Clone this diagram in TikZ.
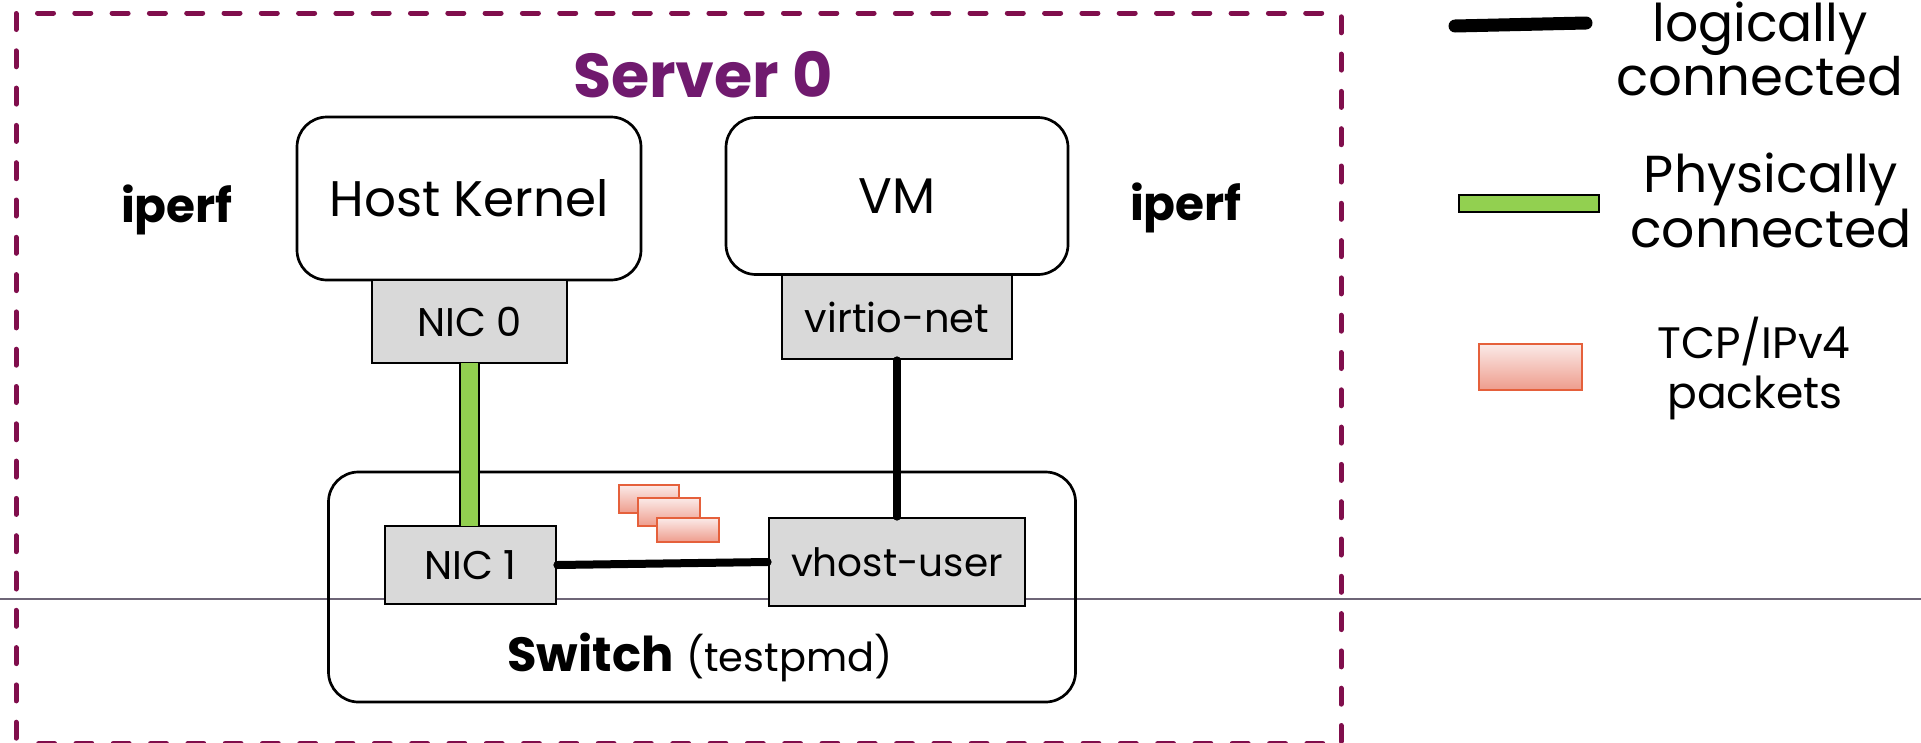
\documentclass[tikz,border=0pt]{standalone}
\usepackage{fontspec}
\setmainfont{Poppins}
\definecolor{srvborder}{HTML}{800E4C}
\definecolor{srvtitle}{HTML}{701A6E}
\definecolor{boxgray}{HTML}{D9D9D9}
\definecolor{physgreen}{HTML}{92D050}
\definecolor{pktedge}{HTML}{E5603B}
\definecolor{pkttop}{HTML}{FBEAE8}
\definecolor{pktbot}{HTML}{EE9C8C}
\definecolor{rulegray}{HTML}{6E6577}
\newcommand\setfs[1]{\fontsize{#1}{#1}\selectfont}
\pgfdeclarelayer{back}
\pgfsetlayers{back,main}
\tikzset{
  roundbox/.style={draw, line width=2.7pt, rounded corners=30pt, inner sep=0pt, font={\setfs{50}}},
  graybox/.style={draw, fill=boxgray, line width=2.7pt, inner sep=0pt, font={\setfs{40}}},
  packet/.style={draw=pktedge, line width=2.5pt, top color=pkttop, bottom color=pktbot, inner sep=0pt},
  logical/.style={line width=8pt, line cap=round},
  lbl/.style={anchor=base, inner sep=0pt},
  serverline/.style={srvborder, line width=5pt, line cap=round, dash pattern=on 16pt off 21.3pt},
}
\begin{document}
\begin{tikzpicture}[x=1pt, y=-1pt]
\useasboundingbox (0,0) rectangle (1921,742);

% thin horizontal rule behind everything
\begin{pgfonlayer}{back}
  \coordinate (ruleL) at (0,599);
  \coordinate (ruleR) at (1921,599);
  \draw[rulegray, line width=1.2pt] (ruleL) -- (ruleR);
\end{pgfonlayer}

% dashed outline of the server
\coordinate (sTL) at (16,13);
\coordinate (sTR) at (1341,13);
\coordinate (sBL) at (16,743.5);
\coordinate (sBR) at (1341,743.5);
\draw[serverline] (37.5,13) -- (sTR);
\draw[serverline] (16,13.5) -- (sBL);
\draw[serverline] (1341,16.8) -- (sBR);
\draw[serverline] (38.6,743.5) -- (sBR);

\node[lbl, text=srvtitle, font={\setfs{62}\bfseries}] (title) at (703,97) {Server 0};

% boxes
\node[roundbox, minimum width=747pt, minimum height=230pt] (switch) at (702,587) {};
\node[lbl, font={\setfs{48}}] (switchlbl) at (700,671) {\textbf{Switch} {\setfs{40}(testpmd)}};

\node[roundbox, minimum width=344pt, minimum height=163pt] (hostk) at (469,198.5) {Host Kernel};
\node[roundbox, minimum width=342pt, minimum height=157pt] (vm) at (897,196) {VM};

\node[graybox, minimum width=195pt, minimum height=83pt] (nic0) at (469.5,321.5) {NIC 0};
\node[graybox, minimum width=230pt, minimum height=84pt] (virtio) at (897,317) {virtio-net};
\node[graybox, minimum width=171pt, minimum height=78pt] (nic1) at (470.5,565) {NIC 1};
\node[graybox, minimum width=256pt, minimum height=88pt, font={\setfs{39}}] (vhost) at (897,562) {vhost-user};

\node[lbl, font={\setfs{47}\bfseries}] (iperfL) at (177,222) {iperf};
\node[lbl, font={\setfs{47}\bfseries}] (iperfR) at (1186,220) {iperf};

% links
\draw[line width=21pt] (nic0.south) -- (nic0.south |- nic1.north);
\draw[physgreen, line width=17pt] ([yshift=1.5pt]nic0.south) -- ([yshift=-1.5pt]nic0.south |- nic1.north);
\draw[logical] (virtio.south) -- (vhost.north);
\draw[logical] (nic1.east) -- (vhost.west);

% packets in flight
\node[packet, minimum width=60pt, minimum height=28pt] (pk1) at (649,499) {};
\node[packet, minimum width=62pt, minimum height=28pt] (pk2) at (669,512) {};
\node[packet, minimum width=62pt, minimum height=24pt] (pk3) at (688,530) {};

% legend
\coordinate (lgA) at (1455,26);
\coordinate (lgB) at (1586,23);
\draw[line width=13pt, line cap=round] (lgA) -- (lgB);
\node[lbl, font={\setfs{52}}] (lg1a) at (1760,41) {logically};
\node[lbl, font={\setfs{53}}] (lg1b) at (1760,95) {connected};

\node[draw, line width=2pt, fill=physgreen, minimum width=140pt, minimum height=17pt, inner sep=0pt] (lgphys) at (1529,203.5) {};
\node[lbl, font={\setfs{52}}] (lg2a) at (1771,192) {Physically};
\node[lbl, font={\setfs{52}}] (lg2b) at (1771,247) {connected};

\node[packet, minimum width=103pt, minimum height=46pt] (lgpkt) at (1530.5,367) {};
\node[lbl, font={\setfs{44}}] (lg3a) at (1754,358) {TCP/IPv4};
\node[lbl, font={\setfs{44}}] (lg3b) at (1755,408) {packets};
\end{tikzpicture}
\end{document}
